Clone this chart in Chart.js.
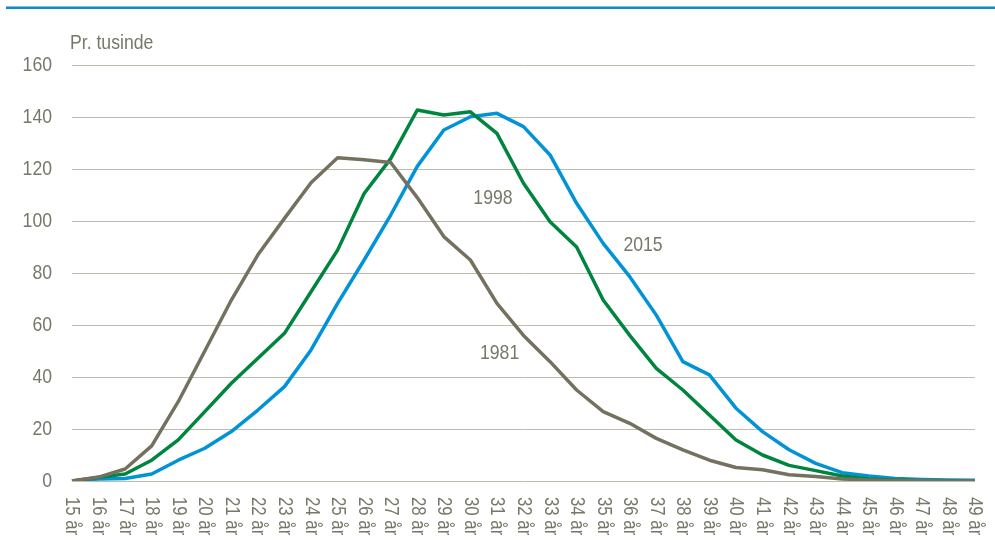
<!DOCTYPE html>
<html>
<head>
<meta charset="utf-8">
<script src="https://cdn.jsdelivr.net/npm/chart.js@4/dist/chart.umd.min.js"></script>
<style>
  body { margin: 0; background: #fff; }
  canvas { display: block; }
</style>
</head>
<body>
<canvas id="fertChart" width="995" height="541"></canvas>
<script>
// Alder (kategorier)
const ages = [];
for (let a = 15; a <= 49; a++) ages.push(a + ' år');

// Fertilitet pr. tusinde kvinder
const y1981 = [0, 1.5, 4.6, 13.5, 30.5, 50, 69.6, 87, 101, 114.7, 124.3, 123.6, 122.5, 109, 94,
  85, 68.3, 56, 45.9, 35, 26.7, 22.2, 16.4, 12, 8, 5.2, 4.3, 2.4, 1.7, 0.8, 0.4, 0.2, 0.1, 0, 0];
const y1998 = [0, 1.4, 2.7, 8, 15.8, 26.7, 37.6, 47.2, 56.8, 72.8, 88.8, 110.6, 124, 142.7, 140.8,
  142, 133.7, 114.5, 99.7, 90, 69.6, 56, 43.3, 35, 25.4, 15.8, 10, 6, 4, 1.9, 0.8, 0.4, 0.2, 0.1, 0];
const y2015 = [0, 0.8, 1, 2.7, 8, 12.6, 19, 27.3, 36.3, 50.4, 68.3, 85, 102.3, 121, 135,
  140.1, 141.4, 136.3, 125.4, 106.8, 91.4, 78.6, 63.8, 45.9, 40.8, 28, 19, 12, 6.8, 3.2, 1.9, 1, 0.6, 0.4, 0.3];

// y-akse ticks
const yTicks = [0, 20, 40, 60, 80, 100, 120, 140, 160];

// Linjeetiketter: [tekst, kategori-indeks, værdi]
const seriesLabels = [['1998', 15.85, 108.8], ['2015', 21.5, 90.8], ['1981', 16.1, 49.2]];

const textGray = '#77776a';
const font = '"Liberation Sans", Arial, sans-serif';
const narrow = 0.84; // ingen Arial Narrow installeret, så teksten presses vandret

function narrowText(ctx, txt, x, y, rot) {
  ctx.save();
  ctx.translate(x, y);
  if (rot) ctx.rotate(rot);
  ctx.scale(narrow, 1);
  ctx.fillText(txt, 0, 0);
  ctx.restore();
}

// tegner overlinje, enhedstekst, y-etiketter, linjeetiketter og lodrette x-etiketter
const extras = {
  id: 'extras',
  afterDraw(chart) {
    const ctx = chart.ctx;
    const x = chart.scales.x, y = chart.scales.y;
    ctx.save();
    ctx.fillStyle = '#0a8bcb';
    ctx.fillRect(6, 6.5, 989, 2.5);

    ctx.fillStyle = textGray;
    ctx.font = '21px ' + font;
    ctx.textBaseline = 'middle';
    ctx.textAlign = 'left';
    narrowText(ctx, 'Pr. tusinde', 70, 43);

    ctx.textAlign = 'right';
    yTicks.forEach(v => narrowText(ctx, String(v), 52, y.getPixelForValue(v)));

    ctx.textAlign = 'center';
    seriesLabels.forEach(([t, i, v]) => {
      const px = x.left + (x.right - x.left) * i / (ages.length - 1);
      narrowText(ctx, t, px, y.getPixelForValue(v));
    });

    ctx.font = '20px ' + font;
    ctx.textAlign = 'left';
    ages.forEach((lab, i) => narrowText(ctx, lab, x.getPixelForValue(i), 497, Math.PI / 2));
    ctx.restore();
  }
};

const ctx = document.getElementById('fertChart').getContext('2d');
new Chart(ctx, {
  type: 'line',
  data: {
    labels: ages,
    datasets: [
      { label: '1981', data: y1981, borderColor: '#74725f', borderWidth: 3.5 },
      { label: '1998', data: y1998, borderColor: '#00853e', borderWidth: 3.5 },
      { label: '2015', data: y2015, borderColor: '#0093d5', borderWidth: 3.5 }
    ]
  },
  options: {
    responsive: false,
    animation: false,
    layout: { padding: { top: 65, right: 20, left: 0, bottom: 0 } },
    elements: { point: { radius: 0 }, line: { tension: 0, borderJoinStyle: 'round' } },
    plugins: { legend: { display: false }, tooltip: { enabled: false } },
    scales: {
      x: {
        offset: false,
        grid: { display: false, drawTicks: false },
        border: { display: false },
        ticks: { display: false },
        afterFit(scale) { scale.height = 60; }
      },
      y: {
        min: 0,
        max: 160,
        grid: { color: '#bdbcb1', lineWidth: 1, drawTicks: false },
        border: { display: false },
        ticks: { stepSize: 20, display: false },
        afterFit(scale) { scale.width = 72; }
      }
    }
  },
  plugins: [extras]
});
</script>
</body>
</html>
